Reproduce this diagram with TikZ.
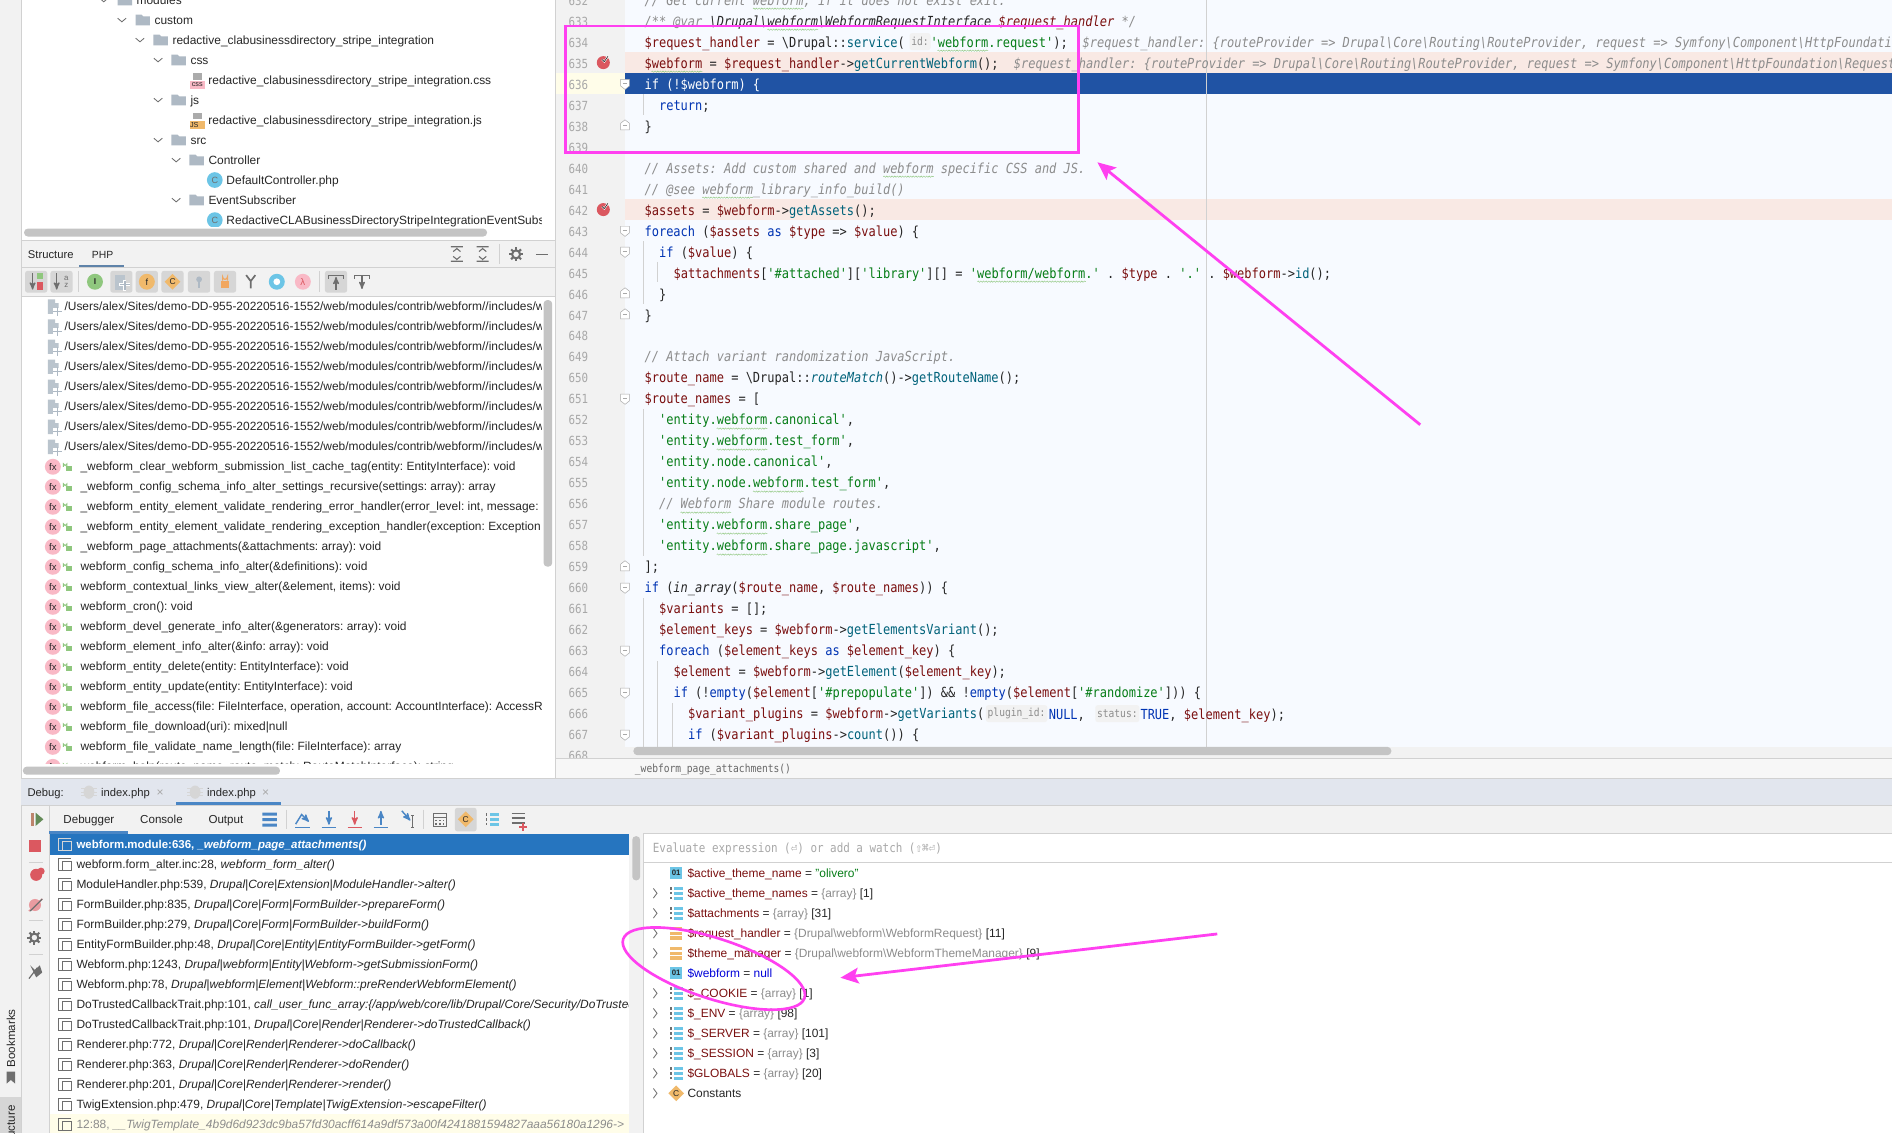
\documentclass[tikz,border=0pt]{standalone}
\usepackage{fontspec}
\setmainfont{Liberation Sans}
\newfontfamily\codefont[FakeStretch=0.865]{DejaVu Sans Mono}
\usetikzlibrary{arrows,arrows.meta,shapes.geometric,decorations.pathmorphing}
\frenchspacing

\definecolor{panelgray}{HTML}{F2F2F2}
\definecolor{codebg}{HTML}{F7FAFF}
\definecolor{breakrow}{HTML}{F9E9E4}
\definecolor{execblue}{HTML}{2053A4}
\definecolor{selblue}{HTML}{2675BF}
\definecolor{yellowrow}{HTML}{FFFDE9}
\definecolor{debugbar}{HTML}{E2E6EE}
\definecolor{edgegray}{HTML}{D1D1D1}
\definecolor{barblue}{HTML}{4A86C5}
\definecolor{scrollgray}{HTML}{C4C4C4}
\definecolor{btngray}{HTML}{D6D6D6}
\definecolor{uiink}{HTML}{262626}
\definecolor{numgray}{HTML}{A8A8A8}
\definecolor{foldergray}{HTML}{AEB9C4}
\definecolor{iconink}{HTML}{6E6E6E}
\definecolor{iconblue}{HTML}{6CC5E6}
\definecolor{iconred}{HTML}{DB5860}
\definecolor{iconpink}{HTML}{F9B9C6}
\definecolor{icongreen}{HTML}{8FC77E}
\definecolor{iconorange}{HTML}{F0B96B}
\definecolor{codevar}{HTML}{7A0F0F}
\definecolor{codekey}{HTML}{0033B3}
\definecolor{codestr}{HTML}{067D17}
\definecolor{codefun}{HTML}{00627A}
\definecolor{codecom}{HTML}{8C8C8C}
\definecolor{markpink}{HTML}{FF40F0}

\tikzset{
  >=stealth',
  uitext/.style={anchor=base west,inner sep=0pt,text=uiink,font=\fontsize{9.9}{11}\selectfont},
  tabtext/.style={anchor=base west,inner sep=0pt,text=uiink,font=\fontsize{9.3}{11}\selectfont},
  codetext/.style={anchor=base west,inner sep=0pt,text=uiink,font=\codefont\fontsize{11.5}{13}\selectfont},
  numtext/.style={anchor=base west,inner sep=0pt,text=numgray,font=\codefont\fontsize{10.4}{12}\selectfont},
  hinttext/.style={inner sep=1.5pt,minimum height=14pt,fill=panelgray,rounded corners=2pt,text=codecom,font=\codefont\fontsize{9.2}{11}\selectfont},
  markbox/.style={draw=markpink,line width=2.4pt,inner sep=0pt},
  markring/.style={draw=markpink,line width=2.2pt,ellipse,inner sep=0pt},
  markarrow/.style={-{Stealth[length=15pt,width=13pt,inset=3pt]},draw=markpink,fill=markpink,line width=2.3pt},
  squig/.style={draw=icongreen,line width=.35pt,decorate,decoration={snake,amplitude=.55pt,segment length=2.2pt}},
  chev/.style={draw=iconink,line width=.7pt},
  guide/.style={draw=edgegray,line width=.5pt},
  toolbtn/.style={fill=btngray,rounded corners=2pt},
  pics/treefolder/.style={code={\fill[foldergray] (-6,-4.5)--(-1,-4.5)--(.5,-3)--(6,-3)--(6,4.5)--(-6,4.5)--cycle;}},
  pics/chevdown/.style={code={\draw[chev] (-3.5,-1.5)--(0,1.5)--(3.5,-1.5);}},
  pics/chevright/.style={code={\draw[chev] (-1.5,-4)--(1.5,0)--(-1.5,4);}},
  pics/classicon/.style={code={\fill[iconblue] (0,0) circle (6.5);\node (c) [text=iconink,font=\fontsize{7.5}{8}\selectfont] {C};}},
  pics/pageplus/.style={code={\fill[foldergray!85!white] (-5,-6)--(1,-6)--(1,-3)--(4,-3)--(4,6)--(-5,6)--cycle;\fill[white] (-1,1) rectangle (8,8);\draw[foldergray,line width=1.2pt] (-.5,3.8)--(7,3.8) (3.2,.5)--(3.2,7.5);}},
  pics/fxicon/.style={code={\fill[iconpink] (0,0) circle (6.6);\node (f) [text=uiink,font=\fontsize{8}{8}\selectfont] {fx};}},
  pics/lockicon/.style={code={\fill[icongreen] (-1.5,-.5) rectangle (3.5,3.5);\draw[icongreen,line width=.8pt] (-3.5,0)--(-3.5,-2.5) arc (180:0:1.5)--(-.5,-.5);}},
  pics/stackicon/.style={code={\draw[iconink,line width=.9pt] (-3,5)--(-5.5,5)--(-5.5,-5)--(4.5,-5);\draw[iconink,line width=.9pt] (-2.5,-2.5) rectangle (5.5,5.5);}},
  pics/stackselected/.style={code={\draw[btngray,line width=.9pt] (-3,5)--(-5.5,5)--(-5.5,-5)--(4.5,-5);\draw[btngray,line width=.9pt] (-2.5,-2.5) rectangle (5.5,5.5);}},
  pics/valueicon/.style={code={\fill[iconblue] (-5,-5) rectangle (5,5);\node (v) [text=uiink,font=\fontsize{6.5}{7}\selectfont\bfseries] {01};}},
  pics/listicon/.style={code={\foreach \y in {-4,0,4}{\fill[iconblue] (-1.5,\y-1.3) rectangle (6,\y+1.3);\fill[iconink] (-5,\y-1) rectangle (-3.8,\y+1);}}},
  pics/objicon/.style={code={\foreach \y in {-4,0,4}{\fill[iconorange] (-5,\y-1.4) rectangle (5,\y+1.4);}}},
  pics/diamondicon/.style={code={\fill[iconorange] (-6.5,0)--(0,-6.5)--(6.5,0)--(0,6.5)--cycle;\node (d) [text=uiink,font=\fontsize{7}{7}\selectfont] {C};}},
  pics/foldopen/.style={code={\filldraw[fill=white,draw=numgray,line width=.4pt] (-3.6,-3.6)--(3.6,-3.6)--(3.6,2)--(0,4.8)--(-3.6,2)--cycle;\draw[numgray,line width=.4pt] (-1.8,0)--(1.8,0);}},
  pics/foldclose/.style={code={\filldraw[fill=white,draw=numgray,line width=.4pt] (-3.6,3.6)--(3.6,3.6)--(3.6,-2)--(0,-4.8)--(-3.6,-2)--cycle;\draw[numgray,line width=.4pt] (-1.8,0)--(1.8,0);}},
  pics/breakicon/.style={code={\fill[iconred] (0,0) circle (5.4);\draw[white,line width=1.5pt] (-1,-2.6)--(.8,-.8)--(3.8,-5.2);\draw[uiink,line width=.5pt] (-1,-2.6)--(.8,-.8)--(3.8,-5.2);}},
  pics/gearicon/.style={code={\foreach \a in {0,45,...,315}{\draw[iconink,line width=1.7pt] (\a:3)--(\a:5.8);}\draw[iconink,line width=1.7pt] (0,0) circle (3.3);}},
  pics/bugicon/.style={code={\fill[btngray] (0,0) ellipse (4.5 and 5.5);\foreach \y in {-3,0,3}{\draw[btngray,line width=.8pt] (-6.5,\y)--(6.5,\y);}}},
}

\newcommand{\bsl}{\textbackslash}
\newcommand{\Vv}[1]{\textcolor{codevar}{#1}}
\newcommand{\Kk}[1]{\textcolor{codekey}{#1}}
\newcommand{\Ss}[1]{\textcolor{codestr}{#1}}
\newcommand{\Ff}[1]{\textcolor{codefun}{#1}}
\newcommand{\Cc}[1]{\textcolor{codecom}{\itshape #1}}
\newcommand{\Gg}[1]{\textcolor{codecom}{#1}}
\newcommand{\codeline}[3]{\node (code#1) [codetext] at ({534+6*#2},{39+17.4*(#1-634)}) {#3};}
\newcommand{\framerow}[3]{\pic at (54,{699.6+16.58*#1}) {stackicon};\node (frame#1) [uitext] at (63.2,{703+16.58*#1}) {#2, \textit{#3}};}
\newcommand{\varrow}[2]{\node (var#1) [uitext] at (569.6,{727.1+16.58*#1}) {#2};}

\catcode`\_=12
\catcode`\$=12

\begin{document}
\begin{tikzpicture}[x=1pt,y=-1pt]
\path[use as bounding box,clip] (0,0) rectangle (1568,939);
\fill[panelgray] (0,0) rectangle (1568,939);

\fill[white] (17.5,0) rectangle (460,199);
\begin{scope}
\clip (17.5,0) rectangle (448.6,188);
\foreach \n/\lev/\name in {0/0/modules,1/1/custom,2/2/redactive_clabusinessdirectory_stripe_integration,3/3/css,5/3/js,7/3/src,8/4/Controller,10/4/EventSubscriber}{
  \pic at ({86+15*\lev},{16.58*\n}) {chevdown};
  \pic at ({103.4+14.9*\lev},{16.58*\n}) {treefolder};
  \node (tree\n) [uitext] at ({113+14.9*\lev},{3.4+16.58*\n}) {\name};
}
\node (tree4) [uitext] at (172.5,69.7) {redactive_clabusinessdirectory_stripe_integration.css};
\node (tree6) [uitext] at (172.5,102.9) {redactive_clabusinessdirectory_stripe_integration.js};
\node (tree9) [uitext] at (187.5,152.6) {DefaultController.php};
\node (tree11) [uitext] at (187.5,185.8) {RedactiveCLABusinessDirectoryStripeIntegrationEventSubs};
\fill[btngray!80!black] (160,60.5) rectangle (167,66);
\fill[iconpink] (157.5,67) rectangle (169.5,74);
\node (csstag) [text=uiink,font=\fontsize{6}{6}\selectfont] at (163.5,70.5) {css};
\fill[btngray!80!black] (160,93.5) rectangle (167,99);
\fill[iconorange] (157.5,100) rectangle (169.5,107);
\node (jstag) [text=uiink,font=\fontsize{6}{6}\selectfont] at (161,103.5) {JS};
\pic at (178,149.2) {classicon};
\pic at (178,182.4) {classicon};
\end{scope}
\fill[scrollgray,rounded corners=3pt] (20,189.5) rectangle (403.6,196);

\node (tabstructure) [tabtext] at (23,214.4) {Structure};
\node (tabphp) [tabtext,font=\fontsize{8.6}{11}\selectfont] at (76,214.4) {PHP};
\fill[barblue!60!gray] (65.7,219.6) rectangle (102.5,221.6);
\draw[edgegray,line width=.6pt] (17.5,199) -- (460,199) (17.5,221.7) -- (460,221.7) (17.5,245.6) -- (460,245.6);
\draw[edgegray,line width=.6pt] (413.7,202) -- (413.7,219) (65,225) -- (65,242) (264.6,225) -- (264.6,242);
\foreach \x in {30,51,100.6,121.7,143,165,186.5,278.5}{
  \fill[toolbtn] (\x-9.2,224.5) rectangle (\x+9.2,242.5);
}
\foreach \x in {378.6,400}{
  \draw[iconink,line width=.9pt] (\x-5,204.5)--(\x+5,204.5) (\x-5,216.5)--(\x+5,216.5) (\x-3,208.5)--(\x,206)--(\x+3,208.5) (\x-3,212.5)--(\x,215)--(\x+3,212.5);
}
\pic at (427.7,210.8) {gearicon};
\draw[iconink,line width=1.1pt] (444,210.8) -- (454,210.8);
\draw[->,iconink,line width=1.1pt] (27,226.5) -- (27,240);
\fill[icongreen] (31,226) rectangle (36,231);
\fill[iconred] (31,234) rectangle (36,240);
\draw[->,iconink,line width=1.1pt] (47,226.5) -- (47,240);
\node (sortaz) [text=iconink,font=\fontsize{6.5}{7}\selectfont,align=center,inner sep=0pt] at (55,233.5) {a\\[-1pt]z};
\fill[icongreen] (78.7,233.5) circle (6.6);
\node (ifaceicon) [text=uiink,font=\fontsize{7}{7}\selectfont\bfseries] at (78.7,233.5) {I};
\fill[foldergray!85!white] (95.5,227.5) rectangle (104,240);
\draw[white,line width=2.6pt] (99,236) -- (108,236) (103.5,232) -- (103.5,241);
\draw[foldergray,line width=1.2pt] (99.5,236) -- (107.5,236) (103.5,232.5) -- (103.5,240.5);
\fill[iconorange] (121.7,233.5) circle (6.6);
\node (fieldicon) [text=uiink,font=\fontsize{7.5}{7}\selectfont] at (121.7,233.5) {f};
\pic at (143,233.5) {diamondicon};
\fill[foldergray] (165,231.5) circle (2.4);
\draw[foldergray,line width=1.2pt] (165,233) -- (165,239);
\fill[iconorange!90!red] (183,232.5) rectangle (190,239);
\draw[iconorange!90!red,line width=1pt] (184.5,232.5) -- (184.5,229.5) arc (180:0:2) -- (188.5,232.5);
\draw[iconink,line width=1.4pt] (204,228)--(207.8,233)--(211.6,228) (207.8,233)--(207.8,239);
\fill[iconblue] (229.4,233.5) circle (6.6);
\fill[white] (229.4,233.5) circle (2.8);
\fill[iconpink] (251,233.5) circle (6.6);
\node (lambdaicon) [text=iconred,font=\fontsize{8}{8}\selectfont] at (251,233.5) {\char"03BB};
\draw[iconink,line width=.9pt] (272.5,228)--(284.5,228) (272.5,228)--(272.5,231) (284.5,228)--(284.5,231);
\draw[<-,iconink,line width=1.1pt] (278.5,229.5) -- (278.5,240);
\draw[iconink,line width=.9pt] (294,228)--(306,228) (294,228)--(294,231) (306,228)--(306,231);
\draw[->,iconink,line width=1.1pt] (300,228) -- (300,239.5);

\fill[white] (17.5,246) rectangle (460,645);
\begin{scope}
\clip (17.5,246) rectangle (448.6,633);
\foreach \n in {0,...,7}{
  \pic at (44.6,{254.2+16.58*\n}) {pageplus};
  \node (path\n) [uitext] at (53.3,{257.6+16.58*\n}) {/Users/alex/Sites/demo-DD-955-20220516-1552/web/modules/contrib/webform//includes/w};
}
\foreach \fn [count=\n from 8] in {
  _webform_clear_webform_submission_list_cache_tag(entity: EntityInterface): void,
  _webform_config_schema_info_alter_settings_recursive(settings: array): array,
  {_webform_entity_element_validate_rendering_error_handler(error_level: int, message:},
  _webform_entity_element_validate_rendering_exception_handler(exception: Exception,
  _webform_page_attachments(\&attachments: array): void,
  webform_config_schema_info_alter(\&definitions): void,
  {webform_contextual_links_view_alter(\&element, items): void},
  webform_cron(): void,
  webform_devel_generate_info_alter(\&generators: array): void,
  webform_element_info_alter(\&info: array): void,
  webform_entity_delete(entity: EntityInterface): void,
  webform_entity_update(entity: EntityInterface): void,
  {webform_file_access(file: FileInterface, operation, account: AccountInterface): AccessR},
  webform_file_download(uri): mixed|null,
  webform_file_validate_name_length(file: FileInterface): array,
  {webform_help(route_name, route_match: RouteMatchInterface): string}}{
  \pic at (43.8,{254.2+16.58*\n}) {fxicon};
  \pic at (56,{254.2+16.58*\n}) {lockicon};
  \node (func\n) [uitext] at (66.6,{257.6+16.58*\n}) {\fn};
}
\end{scope}
\fill[scrollgray,rounded corners=3pt] (19,635.4) rectangle (232,642);
\fill[scrollgray,rounded corners=3pt] (450.5,248.7) rectangle (457.6,469.6);
\draw[edgegray,line width=.6pt] (17.5,0) -- (17.5,645) (460.3,0) -- (460.3,645);

\fill[codebg] (518,0) rectangle (1568,619);
\fill[breakrow] (518,42.9) rectangle (1568,60.4);
\fill[execblue] (518,60.4) rectangle (1568,77.9);
\fill[yellowrow] (461,60.4) rectangle (518,77.9);
\fill[breakrow] (518,164.9) rectangle (1568,182.4);
\draw[edgegray,line width=.5pt] (1000,0) -- (1000,619);
\draw[guide] (533,78) -- (533,95) (533,200) -- (533,252) (545,217) -- (545,234) (533,339) -- (533,461) (533,496) -- (533,619) (545,548) -- (545,619) (557,583) -- (557,619);
\foreach \n in {632,...,668}{
  \node (num\n) [numtext] at (471,{39+17.4*(\n-634)}) {\n};
}
\foreach \n in {636,643,644,651,660,663,665,667}{
  \pic at (518,{34.5+17.4*(\n-634)}) {foldopen};
}
\foreach \n in {638,646,647,659}{
  \pic at (518,{34.5+17.4*(\n-634)}) {foldclose};
}
\pic at (500,51.9) {breakicon};
\pic at (500,173.7) {breakicon};
\foreach \l/\c/\w in {632/15/7,633/17/7,635/1/7,640/33/7,641/8/7,645/46/15,652/10/7,653/10/7,655/15/7,656/5/7,657/10/7,658/10/7}{
  \draw[squig] ({534+6*\c},{42+17.4*(\l-634)}) -- ++({6*\w},0);
}
\draw[squig] (777,42) -- (819,42);

\codeline{632}{0}{\Cc{// Get current webform, if it does not exist exit.}}
\codeline{633}{0}{\Cc{/** @var \textcolor{uiink}{\bsl Drupal\bsl webform\bsl WebformRequestInterface} \Vv{$request_handler} */}}
\codeline{634}{0}{\Vv{$request_handler} = \bsl Drupal::\Ff{service}(}
\node (hintid) [hinttext] at (762.5,34.5) {id:};
\node (code634b) [codetext] at (771,39) {\Ss{'webform.request'});};
\node (hint634) [codetext] at (897,39) {\Cc{$request_handler: \{routeProvider => Drupal\bsl Core\bsl Routing\bsl RouteProvider, request => Symfony\bsl Component\bsl HttpFoundatio}};
\codeline{635}{0}{\Vv{$webform} = \Vv{$request_handler}->\Ff{getCurrentWebform}();}
\node (hint635) [codetext] at (840,56.4) {\Cc{$request_handler: \{routeProvider => Drupal\bsl Core\bsl Routing\bsl RouteProvider, request => Symfony\bsl Component\bsl HttpFoundation\bsl Request}};
\codeline{636}{0}{\textcolor{white}{if (!$webform) \{}}
\codeline{637}{2}{\Kk{return};}
\codeline{638}{0}{\}}
\codeline{640}{0}{\Cc{// Assets: Add custom shared and webform specific CSS and JS.}}
\codeline{641}{0}{\Cc{// @see webform_library_info_build()}}
\codeline{642}{0}{\Vv{$assets} = \Vv{$webform}->\Ff{getAssets}();}
\codeline{643}{0}{\Kk{foreach} (\Vv{$assets} \Kk{as} \Vv{$type} => \Vv{$value}) \{}
\codeline{644}{2}{\Kk{if} (\Vv{$value}) \{}
\codeline{645}{4}{\Vv{$attachments}[\Ss{'\#attached'}][\Ss{'library'}][] = \Ss{'webform/webform.'} . \Vv{$type} . \Ss{'.'} . \Vv{$webform}->\Ff{id}();}
\codeline{646}{2}{\}}
\codeline{647}{0}{\}}
\codeline{649}{0}{\Cc{// Attach variant randomization JavaScript.}}
\codeline{650}{0}{\Vv{$route_name} = \bsl Drupal::\Ff{\itshape routeMatch}()->\Ff{getRouteName}();}
\codeline{651}{0}{\Vv{$route_names} = [}
\codeline{652}{2}{\Ss{'entity.webform.canonical'},}
\codeline{653}{2}{\Ss{'entity.webform.test_form'},}
\codeline{654}{2}{\Ss{'entity.node.canonical'},}
\codeline{655}{2}{\Ss{'entity.node.webform.test_form'},}
\codeline{656}{2}{\Cc{// Webform Share module routes.}}
\codeline{657}{2}{\Ss{'entity.webform.share_page'},}
\codeline{658}{2}{\Ss{'entity.webform.share_page.javascript'},}
\codeline{659}{0}{];}
\codeline{660}{0}{\Kk{if} ({\itshape in_array}(\Vv{$route_name}, \Vv{$route_names})) \{}
\codeline{661}{2}{\Vv{$variants} = [];}
\codeline{662}{2}{\Vv{$element_keys} = \Vv{$webform}->\Ff{getElementsVariant}();}
\codeline{663}{2}{\Kk{foreach} (\Vv{$element_keys} \Kk{as} \Vv{$element_key}) \{}
\codeline{664}{4}{\Vv{$element} = \Vv{$webform}->\Ff{getElement}(\Vv{$element_key});}
\codeline{665}{4}{\Kk{if} (!\Kk{empty}(\Vv{$element}[\Ss{'\#prepopulate'}]) \&\& !\Kk{empty}(\Vv{$element}[\Ss{'\#randomize'}])) \{}
\codeline{666}{6}{\Vv{$variant_plugins} = \Vv{$webform}->\Ff{getVariants}(}
\node (hintplugin) [hinttext] at (842.5,591.4) {plugin_id:};
\node (code666b) [codetext] at (869,595.9) {\Kk{NULL},};
\node (hintstatus) [hinttext] at (926,591.4) {status:};
\node (code666c) [codetext] at (945,595.9) {\Kk{TRUE}, \Vv{$element_key});};
\codeline{667}{6}{\Kk{if} (\Vv{$variant_plugins}->\Ff{count}()) \{}

\fill[panelgray] (518,619) rectangle (1568,629);
\fill[scrollgray,rounded corners=3pt] (525,619) rectangle (1153,625.8);
\draw[edgegray,line width=.5pt] (461,628.8) -- (1568,628.8);
\fill[panelgray!60!white] (461,629) rectangle (1568,645);
\node (crumb) [numtext,text=uiink!70!white,font=\codefont\fontsize{9.2}{11}\selectfont] at (526,640.2) {_webform_page_attachments()};

\fill[debugbar] (17.5,645) rectangle (1568,667);
\draw[edgegray,line width=.6pt] (17.5,645) -- (1568,645) (17.5,667.2) -- (1568,667.2);
\node (debuglabel) [tabtext] at (22.6,660) {Debug:};
\pic at (73.7,656.5) {bugicon};
\node (tabone) [tabtext] at (83.6,660) {index.php};
\node (closeone) [tabtext,text=numgray,font=\fontsize{10}{11}\selectfont] at (129.5,660.5) {\char"00D7};
\pic at (161.7,656.5) {bugicon};
\node (tabtwo) [tabtext] at (171.5,660) {index.php};
\node (closetwo) [tabtext,text=numgray,font=\fontsize{10}{11}\selectfont] at (217,660.5) {\char"00D7};
\fill[barblue] (145.5,665) rectangle (232.8,667);

\draw[edgegray,line width=.6pt] (41,667) -- (41,939) (17.5,667) -- (17.5,939);
\node (tabdebugger) [tabtext,font=\fontsize{9.6}{11}\selectfont] at (52.4,682.8) {Debugger};
\node (tabconsole) [tabtext,font=\fontsize{9.6}{11}\selectfont] at (116,682.8) {Console};
\node (taboutput) [tabtext,font=\fontsize{9.6}{11}\selectfont] at (172.6,682.8) {Output};
\fill[barblue] (41,689) rectangle (106,691);
\draw[edgegray,line width=.6pt] (237.5,671) -- (237.5,687) (350.8,671) -- (350.8,687);
\fill[barblue] (217.5,673.5) rectangle (229.5,676) (217.5,678) rectangle (229.5,680.5) (217.5,682.5) rectangle (229.5,685);
\foreach \x/\inkc in {272.6/barblue,294/iconred,315.7/barblue}{
  \draw[\inkc,line width=1.2pt] (\x-6,686) -- (\x+6,686);
}
\draw[->,barblue,line width=1.2pt] (272.6,672) -- (272.6,683.5);
\draw[->,iconred,line width=1.2pt] (294,672) -- (294,683.5);
\draw[<-,barblue,line width=1.2pt] (315.7,672) -- (315.7,683.5);
\draw[barblue,line width=1.2pt] (244.6,686) -- (256.6,686);
\draw[->,barblue,line width=1.2pt] (245,683) -- (250,675) -- (256,681);
\draw[->,barblue,line width=1.2pt] (333,672) -- (340,680);
\draw[iconink,line width=.7pt] (342,676) -- (342,686) (340.5,676) -- (343.5,676) (340.5,686) -- (343.5,686);
\draw[iconink,line width=1.1pt] (359,674) rectangle (370,685);
\draw[iconink,line width=.7pt] (359,677.5) -- (370,677.5);
\foreach \x in {361.5,364.5,367.5}{\foreach \y in {680,683}{\fill[iconink] (\x-.7,\y-.7) rectangle (\x+.7,\y+.7);}}
\fill[toolbtn] (377,669.5) rectangle (395,689);
\pic at (386,679) {diamondicon};
\pic at (407.6,679) {listicon};
\foreach \y in {674,678,682}{\draw[iconink,line width=1.1pt] (424,\y) -- (435,\y);}
\draw[iconred,line width=1.2pt] (430,685.5) -- (437,685.5) (433.5,682) -- (433.5,689);

\fill[iconred!60!icongreen] (26,673.5) rectangle (28,684.5);
\fill[icongreen!70!black] (29.5,673.5) -- (36,679) -- (29.5,684.5) -- cycle;
\fill[iconred] (24,696) rectangle (34,706);
\fill[iconred] (30,725) circle (5);
\fill[iconred] (34,722) circle (3);
\draw[iconred!60!white,line width=1.2pt] (24,755) -- (35,745);
\fill[iconred!60!white] (29,750) circle (5);
\draw[iconink,line width=1pt] (25,755) -- (35,745);
\pic at (28.5,777) {gearicon};
\fill[iconink] (25,800) -- (29,804) -- (33,800) -- (35,806) -- (30,810) -- cycle;
\draw[iconink,line width=1pt] (31,802) -- (24,811);
\draw[edgegray,line width=.6pt] (24,714.6) -- (36,714.6) (24,763) -- (36,763) (24,790.6) -- (36,790.6);
\node (bookmarks) [tabtext,rotate=90,anchor=center,font=\fontsize{9.6}{10}\selectfont] at (9,860.5) {Bookmarks};
\fill[iconink] (5.5,888) -- (12.5,888) -- (12.5,898) -- (9,895) -- (5.5,898) -- cycle;
\fill[btngray] (0,909.5) rectangle (17,939);
\node (structuretab) [tabtext,rotate=90,anchor=east,font=\fontsize{9.6}{10}\selectfont] at (9,916) {Structure};

\fill[white] (41.5,691) rectangle (521,939);
\fill[selblue] (41.5,691) rectangle (521,708.2);
\fill[yellowrow] (41.5,923) rectangle (521,939);
\begin{scope}
\clip (41.5,691) rectangle (521,939);
\framerow{1}{webform.form_alter.inc:28}{webform_form_alter()}
\framerow{2}{ModuleHandler.php:539}{Drupal|Core|Extension|ModuleHandler->alter()}
\framerow{3}{FormBuilder.php:835}{Drupal|Core|Form|FormBuilder->prepareForm()}
\framerow{4}{FormBuilder.php:279}{Drupal|Core|Form|FormBuilder->buildForm()}
\framerow{5}{EntityFormBuilder.php:48}{Drupal|Core|Entity|EntityFormBuilder->getForm()}
\framerow{6}{Webform.php:1243}{Drupal|webform|Entity|Webform->getSubmissionForm()}
\framerow{7}{Webform.php:78}{Drupal|webform|Element|Webform::preRenderWebformElement()}
\framerow{8}{DoTrustedCallbackTrait.php:101}{call_user_func_array:\{/app/web/core/lib/Drupal/Core/Security/DoTrusted}
\framerow{9}{DoTrustedCallbackTrait.php:101}{Drupal|Core|Render|Renderer->doTrustedCallback()}
\framerow{10}{Renderer.php:772}{Drupal|Core|Render|Renderer->doCallback()}
\framerow{11}{Renderer.php:363}{Drupal|Core|Render|Renderer->doRender()}
\framerow{12}{Renderer.php:201}{Drupal|Core|Render|Renderer->render()}
\framerow{13}{TwigExtension.php:479}{Drupal|Core|Template|TwigExtension->escapeFilter()}
\pic at (54,699.6) {stackselected};
\node (frame0) [uitext,text=white,font=\fontsize{9.5}{11}\selectfont\bfseries] at (63.2,703) {webform.module:636, \textit{_webform_page_attachments()}};
\pic at (54,931.6) {stackicon};
\node (frame14) [uitext,text=codecom] at (63.2,935) {12:88, \textit{__TwigTemplate_4b9d6d923dc9ba57fd30acff614a9df573a00f4241881594827aaa56180a1296->}};
\end{scope}
\fill[scrollgray,rounded corners=3pt] (524,693) rectangle (530.5,729.6);

\fill[white] (533.5,690.6) rectangle (1568,939);
\draw[edgegray,line width=.6pt] (533.5,690.6) -- (1568,690.6) (533.5,714.4) -- (1568,714.4) (533.5,690.6) -- (533.5,939);
\node (evalhint) [numtext,font=\codefont\fontsize{10.45}{12}\selectfont] at (540.9,706.3) {Evaluate expression (\char"23CE) or add a watch (\char"21E7\char"2318\char"23CE)};
\foreach \n/\ic in {0/valueicon,1/listicon,2/listicon,3/objicon,4/objicon,5/valueicon,6/listicon,7/listicon,8/listicon,9/listicon,10/listicon,11/diamondicon}{
  \pic at (560.4,{723.7+16.58*\n}) {\ic};
}
\foreach \n in {1,2,3,4,6,7,8,9,10,11}{
  \pic at (543,{723.7+16.58*\n}) {chevright};
}
\varrow{0}{\Vv{$active_theme_name} = \Ss{"olivero"}}
\varrow{1}{\Vv{$active_theme_names} = \Gg{\{array\}} [1]}
\varrow{2}{\Vv{$attachments} = \Gg{\{array\}} [31]}
\varrow{3}{\Vv{$request_handler} = \Gg{\{Drupal\bsl webform\bsl WebformRequest\}} [11]}
\varrow{4}{\Vv{$theme_manager} = \Gg{\{Drupal\bsl webform\bsl WebformThemeManager\}} [9]}
\varrow{5}{\textcolor{blue!85!black}{$webform} = \textcolor{blue!85!black}{null}}
\varrow{6}{\Vv{$_COOKIE} = \Gg{\{array\}} [1]}
\varrow{7}{\Vv{$_ENV} = \Gg{\{array\}} [98]}
\varrow{8}{\Vv{$_SERVER} = \Gg{\{array\}} [101]}
\varrow{9}{\Vv{$_SESSION} = \Gg{\{array\}} [3]}
\varrow{10}{\Vv{$GLOBALS} = \Gg{\{array\}} [20]}
\varrow{11}{Constants}

\node (redbox) [markbox,minimum width=425pt,minimum height=104.5pt] at (681.4,73.8) {};
\coordinate (tailcode) at (1177,352);
\coordinate (tipcode) at (909.5,134.5);
\draw[markarrow] (tailcode) -- (tipcode);
\node (nullring) [markring,minimum width=158pt,minimum height=50pt,rotate=-18] at (591.6,802.7) {};
\coordinate (tailnull) at (1008.8,774);
\coordinate (tipnull) at (696.5,810.3);
\draw[markarrow] (tailnull) -- (tipnull);
\end{tikzpicture}
\end{document}
